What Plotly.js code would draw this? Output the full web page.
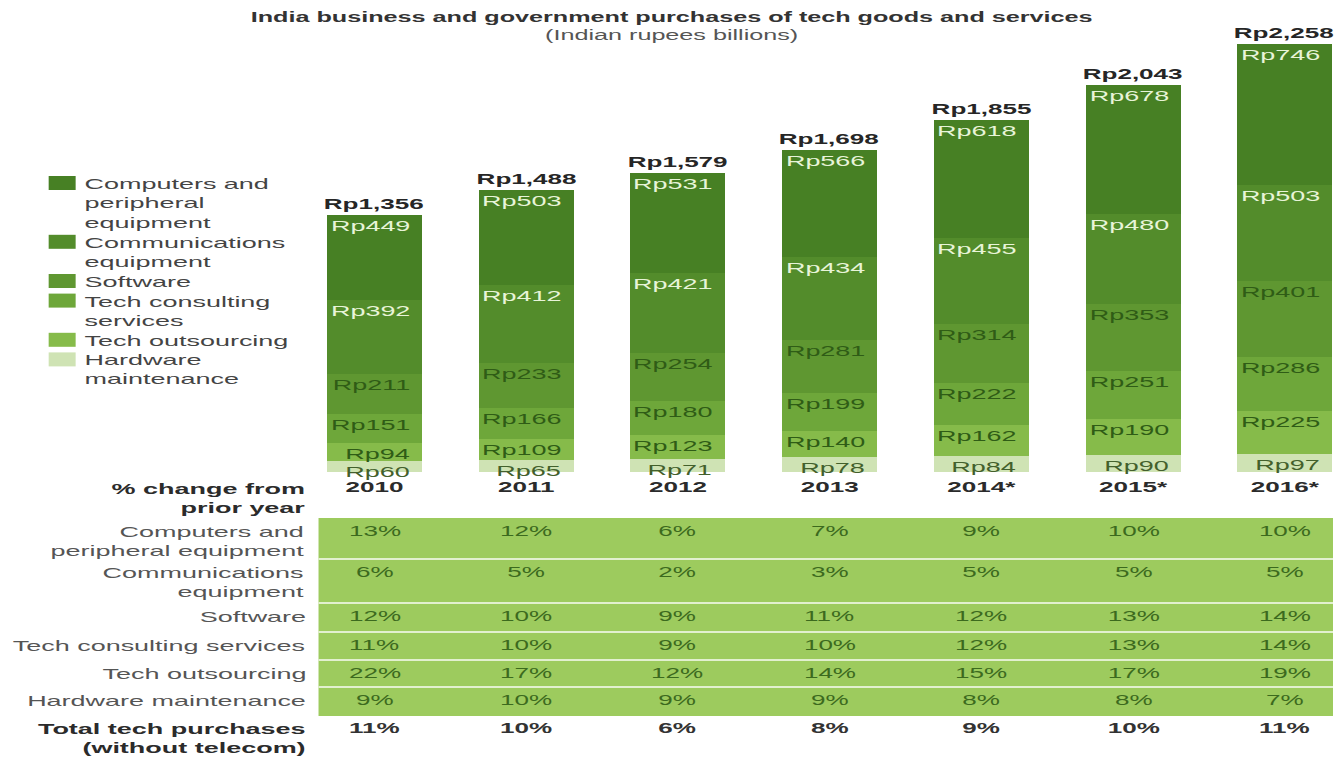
<!DOCTYPE html>
<html><head><meta charset="utf-8">
<script src="https://cdn.plot.ly/plotly-3.0.1.min.js"></script>
<style>
html,body{margin:0;padding:0;background:#fff;overflow:hidden;}
#wrap{width:744px;height:757px;transform:scaleX(1.798387);transform-origin:0 0;}
</style></head><body><div id="wrap"><div id="chart"></div></div>
<script>
// ---------- data ----------
const years = ['2010','2011','2012','2013','2014*','2015*','2016*'];
const hardware = [60,65,71,78,84,90,97];
const outsourcing = [94,109,123,140,162,190,225];
const consulting = [151,166,180,199,222,251,286];
const software = [211,233,254,281,314,353,401];
const communications = [392,412,421,434,455,480,503];
const computers = [449,503,531,566,618,678,746];
const totals = [1356,1488,1579,1698,1855,2043,2258];

const legendLabels = ['Computers and<br>peripheral<br>equipment','Communications<br>equipment','Software','Tech consulting<br>services','Tech outsourcing','Hardware<br>maintenance'];
const tableRowLabels = ['Computers and<br>peripheral equipment','Communications<br>equipment','Software','Tech consulting services','Tech outsourcing','Hardware maintenance'];
const chgComputers = [13,12,6,7,9,10,10];
const chgComm = [6,5,2,3,5,5,5];
const chgSoftware = [12,10,9,11,12,13,14];
const chgConsulting = [11,10,9,10,12,13,14];
const chgOutsourcing = [22,17,12,14,15,17,19];
const chgHardware = [9,10,9,9,8,8,7];
const chgTotal = [11,10,6,8,9,10,11];
const totalRowLabel = 'Total tech purchases<br>(without telecom)';
const headerLabel = '% change from<br>prior year';

// ---------- layout constants ----------
const FONT = 'Liberation Sans, Arial, Helvetica, sans-serif';
const S = 1338/744;          // horizontal stretch of the picture
const PL = 298, PR = 1338, PB = 472; // plot area in page pixels
const px = x => (x - PL)/(PR - PL);
const py = y => (PB - y)/PB;

// bottom-to-top stacking order
const stack = [hardware, outsourcing, consulting, software, communications, computers];
const stackNames = ['Hardware maintenance','Tech outsourcing','Tech consulting services','Software','Communications equipment','Computers and peripheral equipment'];
const stackColors = ['#cfe3b4','#86bb4a','#6ea73a','#5f9731','#538c2b','#478024'];
const labelColors = ['#43602c','#2f5c16','#2f5c16','#2f5c16','#e8f4d8','#e8f4d8'];

const idx = years.map((_, i) => i);

const traces = stack.map((vals, k) => ({
  type: 'bar', x: years, y: vals, name: stackNames[k],
  marker: {color: stackColors[k], line: {width: 0}},
  hoverinfo: 'skip', showlegend: false
}));

const annotations = [];
const shapes = [];

// segment labels
stack.forEach((vals, k) => {
  vals.forEach((v, i) => {
    let cum = 0;
    for (let j = 0; j <= k; j++) cum += stack[j][i];
    annotations.push({x: idx[i], y: cum, xref: 'x', yref: 'y', text: 'Rp' + v,
      showarrow: false, xanchor: 'right', yanchor: 'top', xshift: 21.5, yshift: 0,
      font: {family: FONT, size: 15, color: labelColors[k]}});
  });
});
// totals
totals.forEach((t, i) => {
  annotations.push({x: idx[i], y: t, xref: 'x', yref: 'y',
    text: '<b>Rp' + t.toLocaleString('en-US') + '</b>', showarrow: false,
    xanchor: 'center', yanchor: 'bottom', yshift: 1,
    font: {family: FONT, size: 14.5, color: '#262626'}});
});

// legend (top to bottom)
const legendOrder = [5,4,3,2,1,0];
let lineCount = 0;
legendLabels.forEach((lab, n) => {
  const yc = 183 + lineCount * 19.6;
  shapes.push({type: 'rect', xref: 'paper', yref: 'paper', x0: px(48), x1: px(75),
    y0: py(yc + 7), y1: py(yc - 7), fillcolor: stackColors[legendOrder[n]], line: {width: 0}});
  annotations.push({xref: 'paper', yref: 'paper', x: px(81), y: py(yc - 10),
    xanchor: 'left', yanchor: 'top', align: 'left', text: lab, showarrow: false,
    font: {family: FONT, size: 15, color: '#444'}});
  lineCount += lab.split('<br>').length;
});

// table
const rowBounds = [518, 559, 603, 632, 660, 687, 716];
shapes.push({type: 'rect', xref: 'paper', yref: 'paper', x0: px(318), x1: px(1333),
  y0: py(716), y1: py(518), fillcolor: '#9dcb5e', line: {width: 0}, layer: 'below'});
for (let r = 1; r < rowBounds.length - 1; r++) {
  shapes.push({type: 'line', xref: 'paper', yref: 'paper', x0: px(318), x1: px(1333),
    y0: py(rowBounds[r]), y1: py(rowBounds[r]), line: {color: '#e2f0cf', width: 2}});
}
annotations.push({xref: 'paper', yref: 'paper', x: px(309), y: py(478), xanchor: 'right',
  yanchor: 'top', align: 'right', text: '<b>' + headerLabel + '</b>', showarrow: false,
  font: {family: FONT, size: 15, color: '#2b2b2b'}});

const tableRows = [chgComputers, chgComm, chgSoftware, chgConsulting, chgOutsourcing, chgHardware];
tableRows.forEach((row, r) => {
  const yTop = rowBounds[r] + 3;
  annotations.push({xref: 'paper', yref: 'paper', x: px(309), y: py(yTop), xanchor: 'right',
    yanchor: 'top', align: 'right', text: tableRowLabels[r], showarrow: false,
    font: {family: FONT, size: 15, color: '#555'}});
  row.forEach((v, i) => {
    annotations.push({x: idx[i], xref: 'x', yref: 'paper', y: py(yTop), xanchor: 'center',
      yanchor: 'top', text: v + '%', showarrow: false,
      font: {family: FONT, size: 14.5, color: '#3c6a1e'}});
  });
});
annotations.push({xref: 'paper', yref: 'paper', x: px(309), y: py(718), xanchor: 'right',
  yanchor: 'top', align: 'right', text: '<b>' + totalRowLabel + '</b>', showarrow: false,
  font: {family: FONT, size: 15, color: '#2b2b2b'}});
chgTotal.forEach((v, i) => {
  annotations.push({x: idx[i], xref: 'x', yref: 'paper', y: py(718), xanchor: 'center',
    yanchor: 'top', text: '<b>' + v + '%</b>', showarrow: false,
    font: {family: FONT, size: 14.5, color: '#333'}});
});

const layout = {
  width: 744, height: 757, autosize: false,
  margin: {l: PL / S, r: 0, t: 0, b: 757 - PB, pad: 0},
  paper_bgcolor: '#fff', plot_bgcolor: '#fff',
  font: {family: FONT, size: 15, color: '#333'},
  barmode: 'stack', bargap: 0.374,
  showlegend: false,
  title: {text: '<b>India business and government purchases of tech goods and services</b><br><span style="color:#555">(Indian rupees billions)</span>',
    xref: 'container', x: 0.502, xanchor: 'center', yref: 'container', y: 1 - 22/757, yanchor: 'top',
    font: {family: FONT, size: 14, color: '#333'}},
  xaxis: {type: 'category', range: [-0.5, 6.35], showgrid: false, zeroline: false, showline: false,
    ticks: '', ticklabelstandoff: 5, fixedrange: true,
    tickfont: {family: FONT, size: 14.5, color: '#2b2b2b', weight: 'bold'}},
  yaxis: {range: [0, PB / 0.1895], visible: false, fixedrange: true},
  annotations: annotations,
  shapes: shapes
};

Plotly.newPlot('chart', traces, layout, {staticPlot: true, displayModeBar: false});
</script></body></html>
